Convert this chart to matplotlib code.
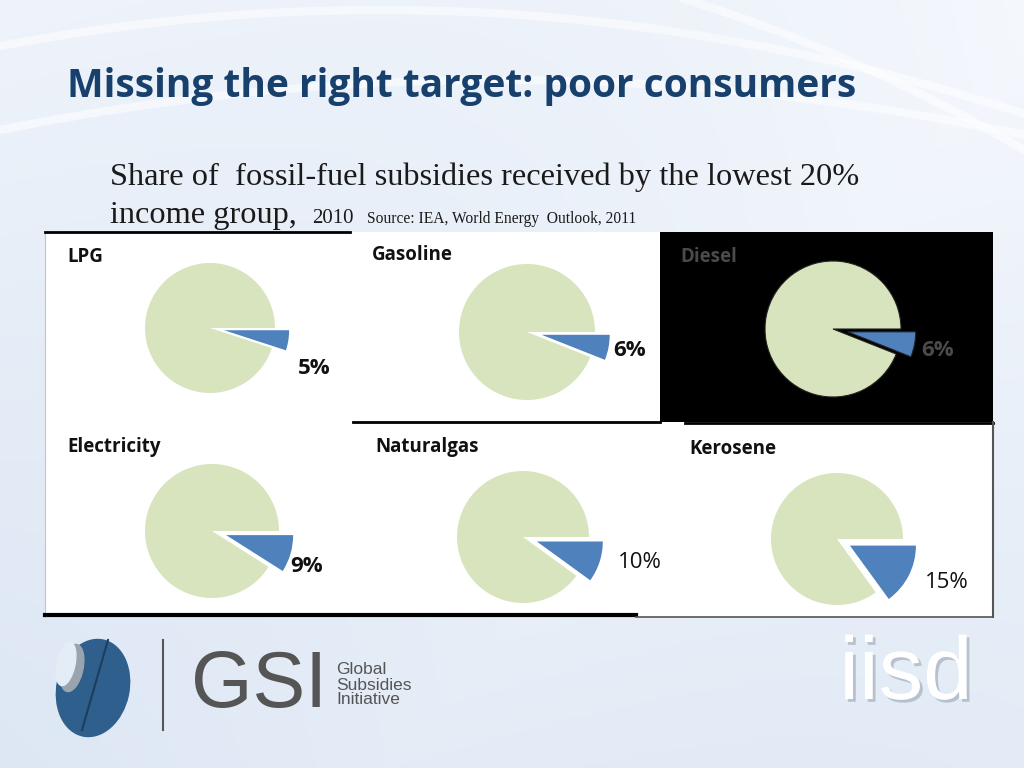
import numpy as np
import matplotlib
matplotlib.use("Agg")
import matplotlib.pyplot as plt
from matplotlib.lines import Line2D
from matplotlib.patches import Ellipse
import matplotlib.patheffects as pe

# data
fuels = ["LPG", "Gasoline", "Diesel", "Electricity", "Naturalgas", "Kerosene"]
shares = [5, 6, 6, 9, 10, 15]  # % received by lowest 20% income group

title = "Missing the right target: poor consumers"
subtitle1 = "Share of  fossil-fuel subsidies received by the lowest 20%"
subtitle2 = "income group,"
year = "2010"
source = "Source: IEA, World Energy  Outlook, 2011"

# layout (pixels on the 1024x768 slide)
W, H = 1024, 768
pie_centers = [(210, 328), (527, 332), (833, 329), (212, 531), (523, 537), (837, 539)]
pie_radius = [65, 68, 68, 67, 66, 66]
title_pos = [(67, 257), (372, 255), (680, 257), (67, 447), (375, 447), (689, 449)]
label_pos = [(314, 369), (630, 350), (938, 350), (307, 566), (640, 562), (947, 582)]

blue = "#4F81BD"
green = "#D7E4BD"

fig = plt.figure(figsize=(10.24, 7.68), dpi=100)


def px_axes(x0, y0, x1, y1):
    return fig.add_axes([x0 / W, 1 - y1 / H, (x1 - x0) / W, (y1 - y0) / H])


def T(x, y, s, **kw):
    return fig.text(x / W, 1 - y / H, s, **kw)


def seg(x0, y0, x1, y1, lw=2, color="black"):
    fig.add_artist(Line2D([x0 / W, x1 / W], [1 - y0 / H, 1 - y1 / H],
                          transform=fig.transFigure, color=color, lw=lw, zorder=5))


def blank(ax, face):
    ax.set_facecolor(face)
    ax.set_xticks([])
    ax.set_yticks([])
    for sp in ax.spines.values():
        sp.set_visible(False)


# slide background
bg = fig.add_axes([0, 0, 1, 1])
gx = np.linspace(0, 1, 200)
gy = np.linspace(0, 1, 150)
X, Y = np.meshgrid(gx, gy)
grad = 0.55 * Y + 0.25 * (1 - X) + 0.2 * np.abs(np.sin(3 * X + 2 * Y))
bg.imshow(grad, extent=[0, W, H, 0], cmap=matplotlib.colors.LinearSegmentedColormap.from_list(
    "bgc", ["#F5F8FD", "#DDE7F4"]), aspect="auto", vmin=0, vmax=1)
for a, b, c in [(0.00025, 380, 10), (0.0004, 300, -60), (0.0002, 500, 80)]:
    xs = np.linspace(0, W, 100)
    bg.plot(xs, a * (xs - b) ** 2 + c, color="white", lw=6, alpha=0.5)
bg.set_xlim(0, W)
bg.set_ylim(H, 0)
bg.axis("off")

# title and subtitle
T(67, 86, title, fontsize=28, fontweight="bold", color="#17406D",
  family="Open Sans", va="center")
T(110, 185, subtitle1, fontsize=23.3, color="#1a1a1a", family="Liberation Serif", va="baseline")
T(110, 223, subtitle2, fontsize=23.3, color="#1a1a1a", family="Liberation Serif", va="baseline")
T(312, 223, year, fontsize=15, color="#1a1a1a", family="Liberation Serif", va="baseline")
T(367, 223, source, fontsize=11.2, color="#1a1a1a", family="Liberation Serif", va="baseline")

# white chart area and the black Diesel block
area = px_axes(45, 232, 993, 617)
blank(area, "white")
area.spines["left"].set_visible(True)
area.spines["left"].set_color("#B8C6DA")
dz = px_axes(660, 232, 993, 422)
blank(dz, "black")

for i, name in enumerate(fuels):
    dark = name == "Diesel"
    cx, cy = pie_centers[i]
    s = pie_radius[i] * 1.3
    pax = px_axes(cx - s, cy - s, cx + s, cy + s)
    pax.pie([shares[i], 100 - shares[i]], colors=[blue, green], startangle=0,
            counterclock=False, explode=[0.22, 0],
            wedgeprops=dict(linewidth=0.8 if dark else 0,
                            edgecolor="#222222" if dark else "white"))
    pax.set_xlim(-1.3, 1.3)
    pax.set_ylim(-1.3, 1.3)
    pax.set_facecolor("none")

    txt_color = "#4a4a4a" if dark else "#111111"
    T(title_pos[i][0], title_pos[i][1], name, fontsize=13.5, fontweight="bold",
      color=txt_color, family="Open Sans", va="center")
    lx, ly = label_pos[i]
    T(lx, ly, f"{shares[i]}%", fontsize=16, color=txt_color,
      fontweight="bold" if i < 4 else "normal", family="Open Sans", ha="center", va="center")

# dark edges seen on the slide
seg(45, 232, 350, 232, lw=2)
seg(353, 422, 660, 422, lw=2)
seg(685, 423, 993, 423, lw=2)
seg(45, 615, 636, 615, lw=3)
seg(636, 617, 993, 617, lw=1.2, color="#555555")
seg(993, 422, 993, 617, lw=1.5, color="#555555")

# logos at the bottom
bg.add_patch(Ellipse((93, 688), 72, 98, angle=12, color="#2F5F8C", zorder=3))
bg.add_patch(Ellipse((72, 668), 22, 48, angle=12, color="#9AA4AE", zorder=4))
bg.add_patch(Ellipse((66, 664), 18, 44, angle=12, color="#E4ECF6", zorder=4))
bg.plot([108, 82], [640, 730], color="#1d3d5c", lw=1.5, zorder=5)
bg.plot([163, 163], [640, 730], color="#555555", lw=1.5)
T(191, 686, "GSI", fontsize=57, color="#555555", family="Liberation Sans", va="center")
T(336, 685, "Global\nSubsidies\nInitiative", fontsize=12.5, color="#555555",
  family="Liberation Sans", va="center", linespacing=1.0)
iisd = T(906, 676, "iisd", fontsize=64, color="white", family="Liberation Sans",
         ha="center", va="center")
iisd.set_path_effects([pe.withSimplePatchShadow(offset=(2, -2), shadow_rgbFace="#9aa6b4", alpha=0.6)])

fig.savefig("out.png", dpi=100)
